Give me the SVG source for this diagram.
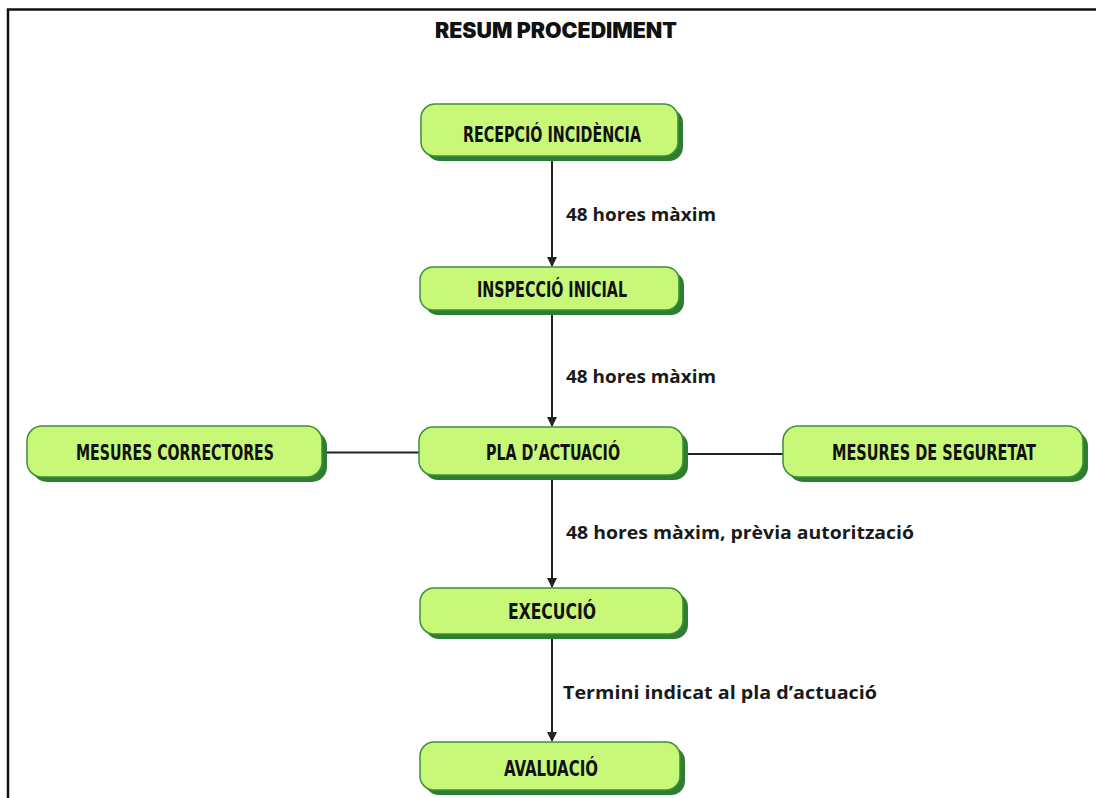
<svg xmlns="http://www.w3.org/2000/svg" width="1096" height="798" viewBox="0 0 1096 798">
<defs>
<style>
.box{fill:#c8f878;stroke:#3d8f3d;stroke-width:1.5}
.sh{fill:#2e7d32}
.nt{font-family:"Liberation Sans Narrow","DejaVu Sans Condensed","Liberation Sans",sans-serif;font-stretch:condensed;font-weight:bold;font-size:21px;fill:#111;text-anchor:middle}
.lb{font-family:"Open Sans","Noto Sans",sans-serif;font-weight:700;font-size:17.5px;fill:#1a1a1a}
.ln{stroke:#222;stroke-width:2;fill:none}
</style>
<marker id="ah" viewBox="0 0 10 10" refX="9" refY="5" markerWidth="5" markerHeight="5" orient="auto">
<path d="M0,0 L10,5 L0,10 z" fill="#222"/>
</marker>
</defs>
<rect width="1096" height="798" fill="#fff"/>
<path d="M8,798 V9.5 H1096" stroke="#111" stroke-width="2.5" fill="none"/>
<text x="556" y="38" text-anchor="middle" font-family="Inter,'Open Sans',sans-serif" font-weight="900" font-size="21" fill="#111" textLength="242" lengthAdjust="spacingAndGlyphs">RESUM PROCEDIMENT</text>
<g id="connectors">
<line class="ln" x1="552" y1="157" x2="552" y2="266" marker-end="url(#ah)"/>
<line class="ln" x1="552" y1="311" x2="552" y2="426" marker-end="url(#ah)"/>
<line class="ln" x1="552" y1="476" x2="552" y2="587" marker-end="url(#ah)"/>
<line class="ln" x1="552" y1="635" x2="552" y2="741" marker-end="url(#ah)"/>
<line class="ln" x1="326" y1="452.5" x2="420" y2="452.5"/>
<line class="ln" x1="684" y1="454" x2="784" y2="454"/>
<text class="lb" x="566" y="221" textLength="150" lengthAdjust="spacingAndGlyphs">48 hores màxim</text>
<text class="lb" x="566" y="383" textLength="150" lengthAdjust="spacingAndGlyphs">48 hores màxim</text>
<text class="lb" x="566" y="539" textLength="348" lengthAdjust="spacingAndGlyphs">48 hores màxim, prèvia autorització</text>
<text class="lb" x="563" y="699" textLength="314" lengthAdjust="spacingAndGlyphs">Termini indicat al pla d’actuació</text>
</g>
<g id="n1">
<rect class="sh" x="426" y="109" width="257" height="52" rx="14"/>
<rect class="box" x="421" y="104" width="257" height="52" rx="14"/>
<text class="nt" x="552" y="142" textLength="178" lengthAdjust="spacingAndGlyphs">RECEPCIÓ INCIDÈNCIA</text>
</g>
<g id="n2">
<rect class="sh" x="425" y="272" width="259" height="43" rx="13"/>
<rect class="box" x="420" y="267" width="259" height="43" rx="13"/>
<text class="nt" x="552" y="297" textLength="150" lengthAdjust="spacingAndGlyphs">INSPECCIÓ INICIAL</text>
</g>
<g id="n3">
<rect class="sh" x="424" y="432" width="264" height="48" rx="14"/>
<rect class="box" x="419" y="427" width="264" height="48" rx="14"/>
<text class="nt" x="553" y="460" textLength="134" lengthAdjust="spacingAndGlyphs">PLA D’ACTUACIÓ</text>
</g>
<g id="n4">
<rect class="sh" x="32" y="431" width="295" height="51" rx="15"/>
<rect class="box" x="27" y="426" width="295" height="51" rx="15"/>
<text class="nt" x="175" y="460" textLength="198" lengthAdjust="spacingAndGlyphs">MESURES CORRECTORES</text>
</g>
<g id="n5">
<rect class="sh" x="788" y="431" width="300" height="51" rx="15"/>
<rect class="box" x="783" y="426" width="300" height="51" rx="15"/>
<text class="nt" x="934" y="460" textLength="204" lengthAdjust="spacingAndGlyphs">MESURES DE SEGURETAT</text>
</g>
<g id="n6">
<rect class="sh" x="425" y="593" width="263" height="46" rx="14"/>
<rect class="box" x="420" y="588" width="263" height="46" rx="14"/>
<text class="nt" x="552" y="619" textLength="88" lengthAdjust="spacingAndGlyphs">EXECUCIÓ</text>
</g>
<g id="n7">
<rect class="sh" x="425" y="747" width="260" height="48" rx="14"/>
<rect class="box" x="420" y="742" width="260" height="48" rx="14"/>
<text class="nt" x="551" y="776" textLength="94" lengthAdjust="spacingAndGlyphs">AVALUACIÓ</text>
</g>
</svg>
